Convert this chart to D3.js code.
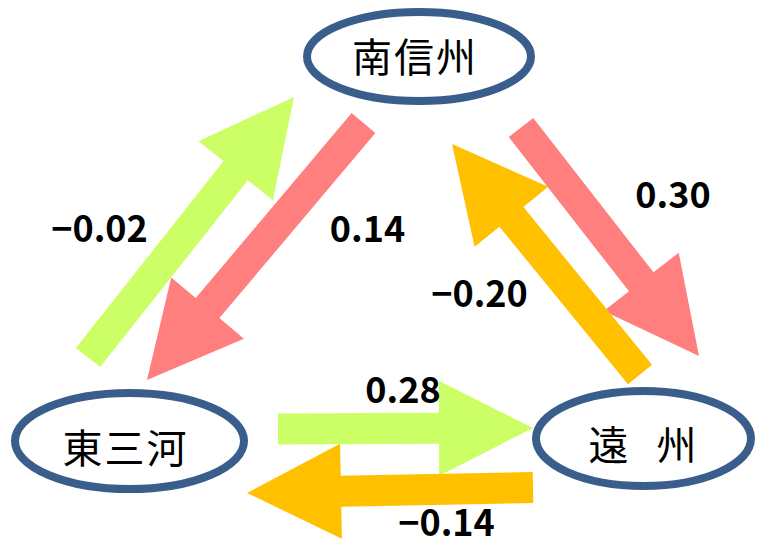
<!DOCTYPE html>
<html><head><meta charset="utf-8">
<script src="https://cdn.jsdelivr.net/npm/d3@7"></script>
<style>html,body{margin:0;padding:0;background:#fff;}svg{display:block;}</style>
</head><body>
<svg id="chart" width="757" height="547"></svg>
<script>
// ---- data ----
const regions = ["南信州", "東三河", "遠州"];
const regionLabels = ["南信州", "東三河", "遠　州"];
const flowSource = ["東三河", "南信州", "南信州", "遠州", "東三河", "遠州"];
const flowTarget = ["南信州", "東三河", "遠州", "南信州", "遠州", "東三河"];
const flowValues = [-0.02, 0.14, 0.30, -0.20, 0.28, -0.14];

// ---- layout (diagram geometry, separate from data) ----
const nodeLayout = {
  "南信州": {cx: 419, cy: 56.5, rx: 112, ry: 44.5, ty: 55},
  "東三河": {cx: 129.5, cy: 441, rx: 114.5, ry: 48, ty: 446},
  "遠州":  {cx: 643.5, cy: 438.5, rx: 107.5, ry: 47.5, ty: 443}
};
const arrowLayout = [
  {tail: [88, 357.5], tip: [294, 97],  label: [99.5, 242]},
  {tail: [363.5, 123], tip: [147, 380], label: [367.5, 242]},
  {tail: [521, 127.5], tip: [699, 356], label: [673, 208]},
  {tail: [640, 374.5], tip: [452, 144], label: [479.5, 307]},
  {tail: [278, 429],   tip: [533, 428], label: [403, 403]},
  {tail: [533, 487.5], tip: [247, 493], label: [446.5, 536]}
];
const shaftW = 31, headL = 94, headW = 95;
const color = d3.scaleOrdinal().domain(regions).range(["#FF7F7F", "#CCFF66", "#FFC000"]);
const fmt = v => (v < 0 ? "\u2212" : "") + d3.format(".2f")(Math.abs(v));

const svg = d3.select("#chart");

function arrowPath(t, p) {
  const dx = p[0] - t[0], dy = p[1] - t[1];
  const L = Math.hypot(dx, dy);
  const ux = dx / L, uy = dy / L, nx = -uy, ny = ux;
  const bx = p[0] - headL * ux, by = p[1] - headL * uy;
  const pt = (x, y, s) => [x + nx * s, y + ny * s];
  const pts = [
    pt(t[0], t[1], shaftW / 2), pt(bx, by, shaftW / 2), pt(bx, by, headW / 2),
    p, pt(bx, by, -headW / 2), pt(bx, by, -shaftW / 2), pt(t[0], t[1], -shaftW / 2)
  ];
  return d3.line()(pts) + "Z";
}

const flows = flowValues.map((v, i) => ({v, s: flowSource[i], t: flowTarget[i], g: arrowLayout[i]}));

svg.append("g").selectAll("path").data(flows).join("path")
  .attr("d", d => arrowPath(d.g.tail, d.g.tip))
  .attr("fill", d => color(d.s));

const nodes = regions.map((r, i) => ({r, label: regionLabels[i], g: nodeLayout[r]}));
svg.append("g").selectAll("ellipse").data(nodes).join("ellipse")
  .attr("cx", d => d.g.cx).attr("cy", d => d.g.cy)
  .attr("rx", d => d.g.rx).attr("ry", d => d.g.ry)
  .attr("fill", "#fff").attr("stroke", "#3A5E8C").attr("stroke-width", 8);

svg.append("g").selectAll("text").data(nodes).join("text")
  .attr("x", d => d.g.cx - 4).attr("y", d => d.g.ty)
  .attr("text-anchor", "middle").attr("dominant-baseline", "central")
  .attr("font-family", "'Noto Sans CJK JP', sans-serif")
  .attr("font-size", 40).attr("letter-spacing", d => d.r === "遠州" ? "-6px" : "2px")
  .attr("fill", "#000")
  .text(d => d.label);

svg.append("g").selectAll("text").data(flows).join("text")
  .attr("x", d => d.g.label[0]).attr("y", d => d.g.label[1])
  .attr("text-anchor", "middle")
  .attr("font-family", "'Noto Sans CJK JP', sans-serif")
  .attr("font-weight", "bold").attr("font-size", 36)
  .attr("fill", "#000")
  .text(d => fmt(d.v));
</script>
</body></html>
